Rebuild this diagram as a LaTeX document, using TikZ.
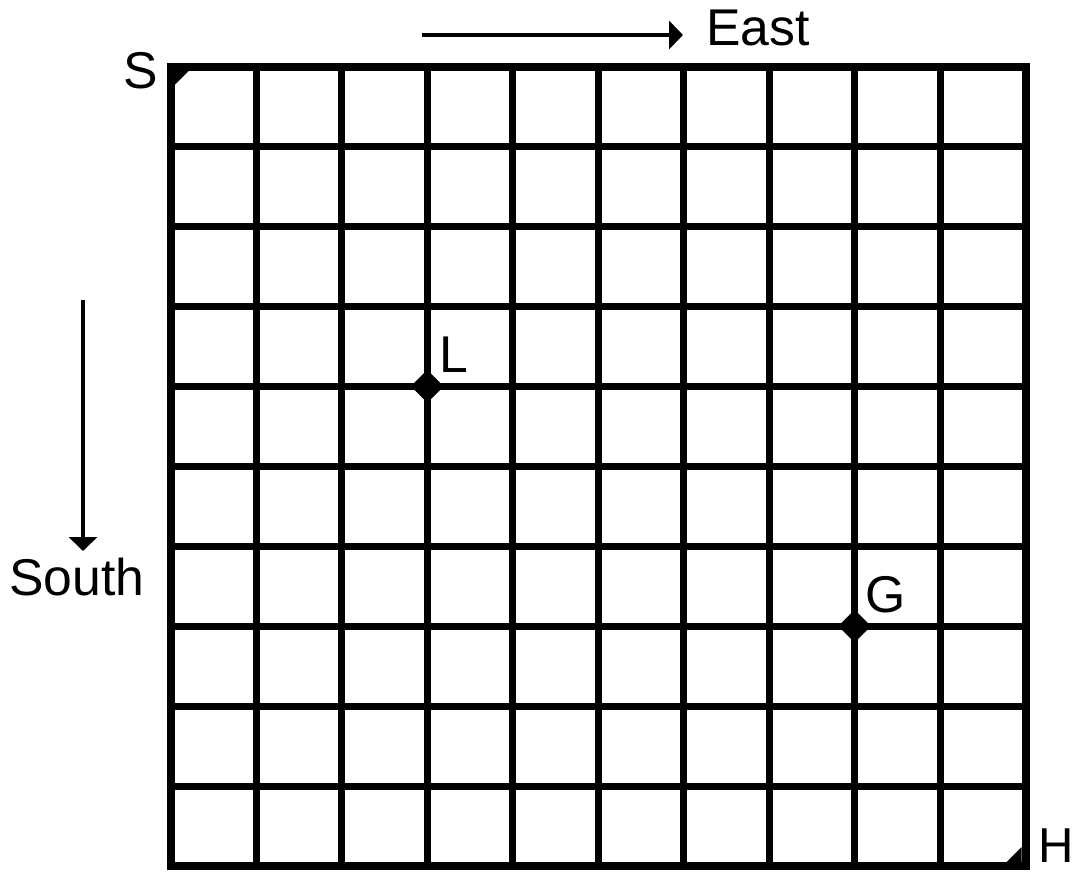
\documentclass[tikz,border=0pt]{standalone}
\usepackage{fontspec}
\setmainfont{Liberation Sans}
\usetikzlibrary{arrows.meta,shapes.geometric}
\tikzset{
  gridline/.style={line width=7pt, line cap=rect},
  border/.style={line width=8pt, line join=miter},
  arr/.style={line width=4pt, -{Triangle[width=28pt,length=14pt]}},
  lbl/.style={inner sep=0pt, anchor=base west, font=\fontsize{51.7}{60}\selectfont},
  marker/.style={diamond, fill=black, draw=none, minimum size=33pt, inner sep=0pt}
}
\begin{document}
\begin{tikzpicture}[x=1pt,y=-1pt]
\useasboundingbox (0,0) rectangle (1078,871);
% grid
\foreach \i in {1,...,9}{
  \draw[gridline] ({171+\i*85.45},66.5) -- ({171+\i*85.45},866);
  \draw[gridline] (171,{66.5+\i*79.95}) -- (1025.5,{66.5+\i*79.95});
}
\draw[border] (171,66.5) rectangle (1025.5,866);
% corner marks
\fill (175,70.5) -- ++(14,0) -- ++(-14,14) -- cycle;
\fill (1021.5,862) -- ++(-15,0) -- ++(15,-15) -- cycle;
% markers
\node[marker] (L) at ({171+3*85.45},{66.5+4*79.95}) {};
\node[marker] (G) at ({171+8*85.45},{66.5+7*79.95}) {};
% labels
\node[lbl] (Llbl) at (439,372) {L};
\node[lbl] (Glbl) at (865,612) {G};
\node[lbl] (Slbl) at (123,88) {S};
\node[lbl, font=\fontsize{49}{58}\selectfont] (Hlbl) at (1038,862) {H};
\node[lbl] (East) at (706,45) {East};
\node[lbl] (South) at (9,595) {South};
% arrows
\coordinate (e0) at (422,35);
\coordinate (e1) at (683,35);
\draw[arr] (e0) -- (e1);
\coordinate (s0) at (83,300);
\coordinate (s1) at (83,551);
\draw[arr] (s0) -- (s1);
\end{tikzpicture}
\end{document}
